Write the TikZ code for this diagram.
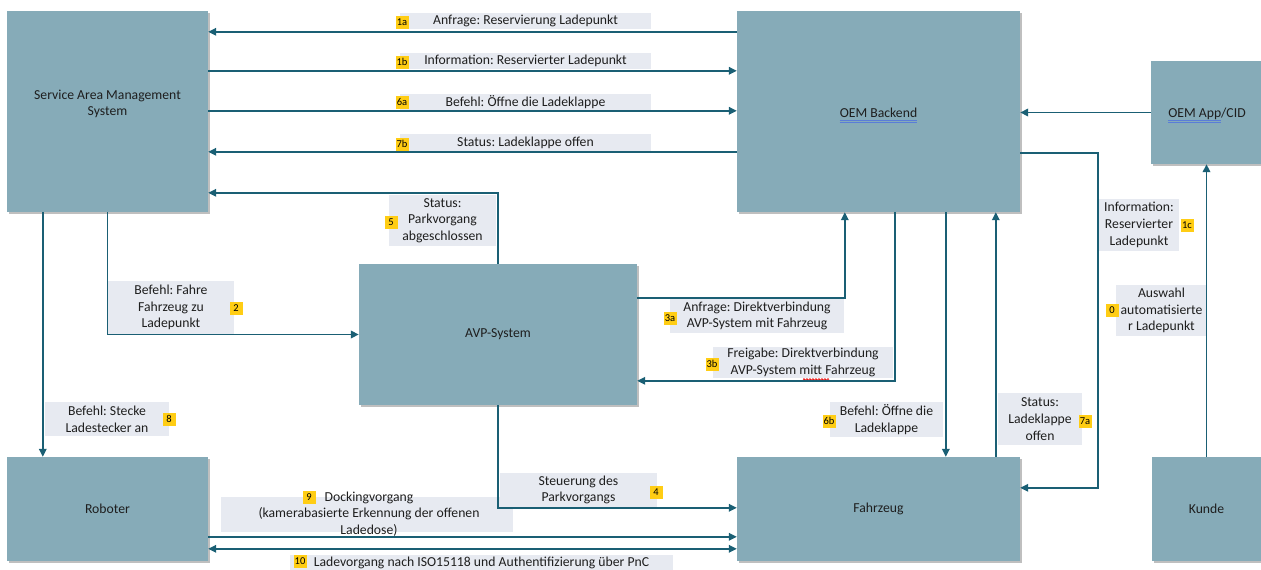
\documentclass[tikz,border=0pt]{standalone}
\usepackage{fontspec}
\setmainfont{Carlito}
\usetikzlibrary{arrows.meta,calc,shadows,decorations.pathmorphing}

\definecolor{boxfill}{RGB}{134,171,184}
\definecolor{flowline}{RGB}{26,95,116}
\definecolor{notefill}{RGB}{231,234,241}
\definecolor{badgefill}{RGB}{255,205,20}
\definecolor{txt}{RGB}{30,30,30}
\definecolor{gramblue}{RGB}{90,125,215}

\newlength\appw
\frenchspacing

\begin{document}
\settowidth{\appw}{\fontsize{13.7}{16.7}\selectfont OEM App}
\begin{tikzpicture}[x=1pt,y=-1pt,
  every node/.style={text=txt, font=\fontsize{13.7}{16.7}\selectfont},
  block/.style={fill=boxfill, inner sep=0, align=center,
    drop shadow={shadow xshift=1.5pt, shadow yshift=-1.5pt, opacity=0.25, fill=black}},
  note/.style={fill=notefill, inner sep=0, align=center},
  plain/.style={inner sep=0, align=center},
  badge/.style={fill=badgefill, inner sep=0.8pt, minimum width=13pt, minimum height=13pt,
    text=black, font=\fontsize{10.5}{11}\selectfont,
    drop shadow={shadow xshift=0.8pt, shadow yshift=-0.8pt, opacity=0.3, fill=black}},
  flow/.style={draw=flowline, line width=1.9pt, -{Triangle[length=8pt,width=7.5pt]}},
  flowboth/.style={draw=flowline, line width=1.9pt,
    {Triangle[length=8pt,width=7.5pt]}-{Triangle[length=8pt,width=7.5pt]}},
  gram/.style={draw=gramblue, line width=0.6pt},
]
\useasboundingbox (0,0) rectangle (1261,570);

% ---------- system blocks ----------
\node[block, minimum width=201pt, minimum height=201pt] (sams) at (107.5,111.5) {};
\node[plain] (samstxt) at (107.5,104) {Service Area Management\\System};
\node[block, minimum width=283pt, minimum height=201pt] (oem) at (878.5,111.5) {};
\node[plain] (oemtxt) at (878.5,113) {OEM Backend};
\node[block, minimum width=110pt, minimum height=103pt] (app) at (1206,112.5) {};
\node[plain] (apptxt) at (1207,114) {OEM App/CID};
\node[block, minimum width=278pt, minimum height=141pt] (avp) at (498,334.5) {AVP-System};
\node[block, minimum width=201pt, minimum height=104pt] (rob) at (107.5,509) {Roboter};
\node[block, minimum width=283pt, minimum height=104pt] (fz) at (878.5,509) {Fahrzeug};
\node[block, minimum width=109pt, minimum height=104pt] (kunde) at (1206.5,509) {Kunde};

% grammar marks under text
\draw[gram] ([yshift=-2.5pt]oemtxt.base west) -- ([yshift=-2.5pt]oemtxt.base east);
\draw[gram] ([yshift=-4.5pt]oemtxt.base west) -- ([yshift=-4.5pt]oemtxt.base east);
\draw[gram] ([yshift=-2.5pt]apptxt.base west) -- ++(\appw,0pt);
\draw[gram] ([yshift=-4.5pt]apptxt.base west) -- ++(\appw,0pt);

% ---------- message labels ----------
\node[note, minimum width=251pt, minimum height=16pt] (n1a) at (525.5,21) {Anfrage: Reservierung Ladepunkt};
\node[note, minimum width=251pt, minimum height=16pt] (n1b) at (525.5,61) {Information: Reservierter Ladepunkt};
\node[note, minimum width=251pt, minimum height=16pt] (n6a) at (525.5,102) {Befehl: Öffne die Ladeklappe};
\node[note, minimum width=251pt, minimum height=17pt] (n7b) at (525.5,142.5) {Status: Ladeklappe offen};
\node[note, minimum width=107pt, minimum height=51pt] (n5) at (442.5,220.5) {Status:\\Parkvorgang\\abgeschlossen};
\node[note, minimum width=126pt, minimum height=53pt] (n2) at (171,307.5) {Befehl: Fahre\\Fahrzeug zu\\Ladepunkt};
\node[note, minimum width=124pt, minimum height=34pt] (n8) at (107,419) {Befehl: Stecke\\Ladestecker an};
\node[note, minimum width=174pt, minimum height=34pt] (n3a) at (757,316) {Anfrage: Direktverbindung\\AVP-System mit Fahrzeug};
\node[note, minimum width=180pt, minimum height=31pt] (n3b) at (803,362.5) {Freigabe: Direktverbindung\\AVP-System mitt Fahrzeug};
\node[note, minimum width=113pt, minimum height=35pt] (n6b) at (886.5,419.5) {Befehl: Öffne die\\Ladeklappe};
\node[note, minimum width=84pt, minimum height=52pt] (n7a) at (1040,419) {Status:\\Ladeklappe\\offen};
\node[note, minimum width=80pt, minimum height=52pt] (n1c) at (1139,225) {Information:\\Reservierter\\Ladepunkt};
\node[note, minimum width=91pt, minimum height=51pt] (n0) at (1161.5,310.5) {Auswahl\\automatisierte\\r Ladepunkt};
\node[note, minimum width=157pt, minimum height=34pt] (n4) at (578.5,490) {Steuerung des\\Parkvorgangs};
\node[note, minimum width=292pt, minimum height=35pt] (n9) at (367,514.5) {};
\node[plain] (t9) at (369,514) {Dockingvorgang\\(kamerabasierte Erkennung der offenen\\Ladedose)};
\node[note, minimum width=383pt, minimum height=15pt] (n10) at (481.5,562.5) {Ladevorgang nach ISO15118 und Authentifizierung über PnC};

% spelling mark under "mitt"
\draw[red!90!black, line width=0.7pt, decorate,
      decoration={snake, amplitude=0.9pt, segment length=3pt}] (803,379.5) -- (829,379.5);

% ---------- step badges ----------
\node[badge] (b1a) at (402,22) {1a};
\node[badge] (b1b) at (402,62) {1b};
\node[badge] (b6a) at (402,102) {6a};
\node[badge] (b7b) at (402,144) {7b};
\node[badge] (b5) at (391,222) {5};
\node[badge] (b2) at (236,308) {2};
\node[badge] (b8) at (169,419) {8};
\node[badge] (b3a) at (670,318) {3a};
\node[badge] (b3b) at (712,364) {3b};
\node[badge] (b6b) at (829,421) {6b};
\node[badge] (b7a) at (1085,421) {7a};
\node[badge] (b1c) at (1187,225) {1c};
\node[badge] (b0) at (1112,310) {0};
\node[badge] (b4) at (656,492) {4};
\node[badge] (b9) at (309,497) {9};
\node[badge] (b10) at (300,561) {10};

% ---------- connectors ----------
% SAMS <-> OEM Backend
\draw[flow] ($(oem.north west)+(0,21)$) -- ($(sams.north east)+(0,21)$);
\draw[flow] ($(sams.north east)+(0,60)$) -- ($(oem.north west)+(0,60)$);
\draw[flow] ($(sams.north east)+(0,100)$) -- ($(oem.north west)+(0,100)$);
\draw[flow] ($(oem.north west)+(0,141)$) -- ($(sams.north east)+(0,141)$);
% OEM App -> OEM Backend
\draw[flow] (app.west) -- (app.west -| oem.east);
% OEM Backend -> Fahrzeug (1c)
\draw[flow] ($(oem.north east)+(0,142)$) -| ($(fz.north east)+(78,31)$) -- ($(fz.north east)+(0,31)$);
% Kunde -> OEM App
\draw[flow] (kunde.north) -- (kunde.north |- app.south);
% AVP -> SAMS (5)
\draw[flow] (avp.north) |- ($(sams.north east)+(0,182)$);
% SAMS -> AVP (2)
\draw[flow] (sams.south) |- (avp.west);
% SAMS -> Roboter (8)
\draw[flow] ($(sams.south west)+(36,0)$) -- ($(rob.north west)+(36,0)$);
% AVP -> OEM Backend (3a)
\draw[flow] ($(avp.north east)+(0,34)$) -| ($(oem.south west)+(108,0)$);
% OEM Backend -> AVP (3b)
\draw[flow] ($(oem.south west)+(158,0)$) |- ($(avp.north east)+(0,117)$);
% OEM Backend -> Fahrzeug (6b)
\draw[flow] ($(oem.south west)+(209,0)$) -- ($(fz.north west)+(209,0)$);
% Fahrzeug -> OEM Backend (7a)
\draw[flow] ($(fz.north west)+(259,0)$) -- ($(oem.south west)+(259,0)$);
% AVP -> Fahrzeug (4)
\draw[flow] (avp.south) |- ($(fz.north west)+(0,51)$);
% Roboter -> Fahrzeug (9)
\draw[flow] ($(rob.north east)+(0,80)$) -- ($(fz.north west)+(0,80)$);
% Roboter <-> Fahrzeug (10)
\draw[flowboth] ($(rob.north east)+(0,92)$) -- ($(fz.north west)+(0,92)$);

\end{tikzpicture}
\end{document}
